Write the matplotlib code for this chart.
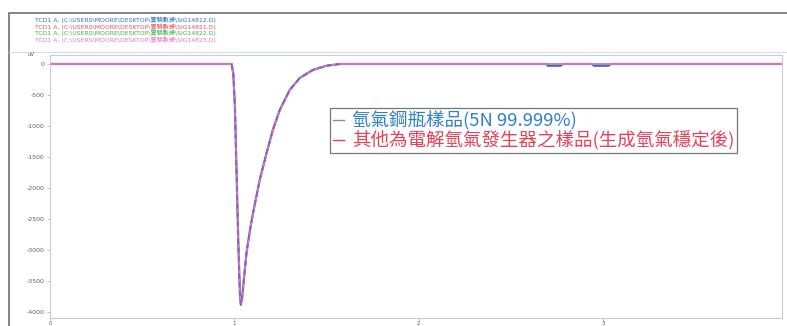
import matplotlib
matplotlib.use("Agg")
import matplotlib.pyplot as plt
from matplotlib.patches import Rectangle
from matplotlib.lines import Line2D

plt.rcParams['font.family'] = ['Noto Sans CJK TC', 'DejaVu Sans']

# ---- data (time in min, signal in uV) ----
peak_t = [0.0, 0.985, 0.994, 1.003, 1.012, 1.021, 1.030, 1.035, 1.042, 1.048, 1.066,
          1.084, 1.102, 1.138, 1.175, 1.210, 1.247, 1.301, 1.355, 1.426, 1.500, 1.572, 3.97]
peak_v = [0, 0, -150, -690, -1760, -2840, -3700, -3890, -3780, -3590, -3050,
          -2700, -2400, -1870, -1440, -1060, -740, -420, -230, -100, -30, 0, 0]

blue_t = [0.0, 0.985, 0.994, 1.003, 1.012, 1.021, 1.030, 1.035, 1.042, 1.048, 1.066,
          1.084, 1.102, 1.138, 1.175, 1.210, 1.247, 1.301, 1.355, 1.426, 1.500, 1.572,
          2.69, 2.70, 2.77, 2.78, 2.94, 2.95, 3.03, 3.04, 3.97]
blue_v = [0, 0, -150, -700, -1770, -2850, -3710, -3880, -3770, -3580, -3040,
          -2690, -2390, -1860, -1430, -1050, -735, -415, -225, -95, -28, 0,
          0, -28, -28, 0, 0, -28, -28, 0, 0]

series_colors = ['#2f6fc4', '#e8505b', '#3cb44b', '#e878c8']
series_names = ['TCD1 A, (C:\\USERS\\MOORE\\DESKTOP\\實驗數據\\SIG14812.D)',
                'TCD1 A, (C:\\USERS\\MOORE\\DESKTOP\\實驗數據\\SIG14821.D)',
                'TCD1 A, (C:\\USERS\\MOORE\\DESKTOP\\實驗數據\\SIG14822.D)',
                'TCD1 A, (C:\\USERS\\MOORE\\DESKTOP\\實驗數據\\SIG14823.D)']
legend_labels = ['氫氣鋼瓶樣品(5N 99.999%)',
                 '其他為電解氫氣發生器之樣品(生成氫氣穩定後)']
legend_colors = ['#2f7fd0', '#e8405a']
legend_handle_colors = ['#8090a8', '#e8405a']

y_ticks = [0, -500, -1000, -1500, -2000, -2500, -3000, -3500, -4000]
x_ticks = [0, 1, 2, 3]

fig = plt.figure(figsize=(7.87, 3.26), dpi=100)
ax = fig.add_axes([50/787, 1-318/326, 732/787, (318-55)/326])

# traces: blue, red, green, magenta (last on top)
ax.plot(blue_t, blue_v, color=series_colors[0], lw=1.6)
ax.plot(peak_t, peak_v, color=series_colors[1], lw=1.0)
ax.plot(peak_t, peak_v, color=series_colors[2], lw=0.8, alpha=0.4)
ax.plot(peak_t, peak_v, color=series_colors[3], lw=1.1)
# blue trace showing through on the peak (dashed overlap look)
ax.plot(blue_t[1:22], blue_v[1:22], color='#5a50c0', lw=0.9, dashes=(4, 3), alpha=0.75)

ax.set_xlim(0, 3.97)
ax.set_ylim(-4097, 145)
ax.set_yticks(y_ticks)
ax.set_yticklabels([str(v) for v in y_ticks], fontsize=4.5, family=['DejaVu Sans'])
ax.set_xticks(x_ticks)
ax.set_xticklabels([str(v) for v in x_ticks], fontsize=4, family=['DejaVu Sans'])
ax.tick_params(axis='both', length=2, width=0.5, colors='#aab0b8')
ax.tick_params(axis='x', pad=0.5)
ax.tick_params(axis='y', pad=2)
for lab in ax.get_yticklabels() + ax.get_xticklabels():
    lab.set_color('#556070')
for s in ax.spines.values():
    s.set_color('#c8ccd2')
    s.set_linewidth(0.8)

# legend box
handles = [Line2D([], [], color=c, lw=1.0) for c in legend_handle_colors]
leg = ax.legend(handles, legend_labels, loc='upper left',
                bbox_to_anchor=((330-50)/732, 1-(108-55)/263),
                prop={'size': 13.3, 'weight': 'medium'},
                frameon=True, fancybox=False, handlelength=0.6,
                handletextpad=0.45, borderpad=0.15, labelspacing=0.05,
                borderaxespad=0)
leg.get_frame().set_edgecolor('#555555')
leg.get_frame().set_linewidth(0.9)
for t, c in zip(leg.get_texts(), legend_colors):
    t.set_color(c)

# header texts
for i, (name, c) in enumerate(zip(series_names, series_colors)):
    fig.text(35/787, 1-(20+i*6.6)/326, name, fontsize=4.4, color=c, va='center',
             ha='left', family=['DejaVu Sans', 'Noto Sans CJK TC'])
fig.text(28/787, 1-55/326, 'uV', fontsize=4, color='#556070', ha='left', va='center',
         family=['DejaVu Sans'])

# outer frame
fig.patches.append(Rectangle((9/787, -0.05), 1.2, 1-13/326+0.05,
                             transform=fig.transFigure, fill=False,
                             edgecolor='#707070', lw=1.2))
fig.lines.append(Line2D([9/787, 1], [1-52/326, 1-52/326], transform=fig.transFigure,
                        color='#d8dce0', lw=0.8))

fig.savefig('out.png', dpi=100)
